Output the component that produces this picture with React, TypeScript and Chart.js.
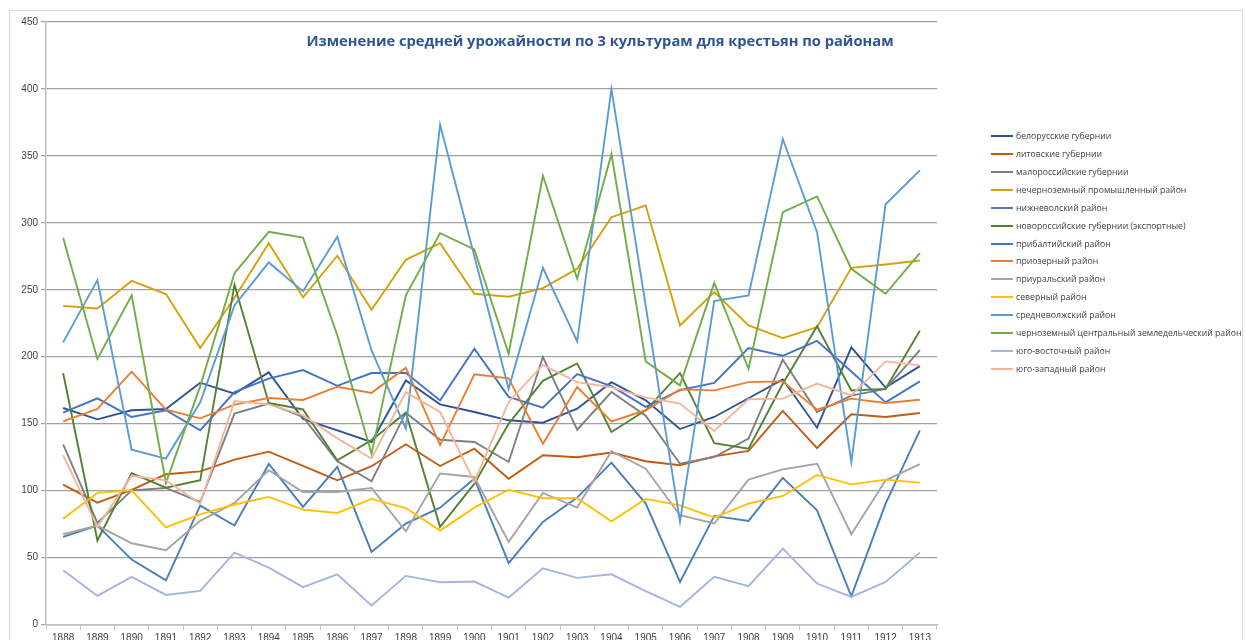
import React, { useEffect, useRef } from "react";
import { Chart, registerables } from "chart.js";

Chart.register(...registerables);

const chartTitle = "Изменение средней урожайности по 3 культурам для крестьян по районам";

const years = [
  "1888", "1889", "1890", "1891", "1892", "1893", "1894", "1895", "1896", "1897", "1898", "1899", "1900",
  "1901", "1902", "1903", "1904", "1905", "1906", "1907", "1908", "1909", "1910", "1911", "1912", "1913",
];

const yTicks = [0, 50, 100, 150, 200, 250, 300, 350, 400, 450];

const seriesNames = [
  "белорусские губернии",
  "литовские губернии",
  "малороссийские губернии",
  "нечерноземный промышленный район",
  "нижневолский район",
  "новороссийские губернии (экспортные)",
  "прибалтийский район",
  "приозерный район",
  "приуральский район",
  "северный район",
  "средневолжский район",
  "черноземный центральный земледельческий район",
  "юго-восточный район",
  "юго-западный район",
];

const belorus = [161.7, 153.2, 160, 161, 180.6, 172.4, 188.3, 153.5, 145, 136.3, 182.3, 164.4, 158.7, 152.5, 150.7, 161.2, 181, 167.4, 146, 155, 169, 183, 147, 207, 177, 193];
const litov = [104.5, 91, 100.5, 112.2, 114.4, 123.1, 129.1, 118.4, 107.7, 118.2, 134.6, 118.4, 131.3, 108.9, 126.4, 124.9, 128.4, 121.9, 118.9, 125.6, 129.6, 159.5, 131.8, 157, 155, 158];
const maloros = [134.6, 75.9, 100.2, 102, 91.5, 157.5, 165, 155, 122, 107, 158.2, 138, 136.3, 121.4, 199.8, 145.5, 173.6, 156, 120.1, 125.1, 138.8, 197.8, 158.7, 171, 176, 205];
const nechernozem = [238, 236, 256.7, 246.8, 206.5, 244, 284.8, 244.3, 275.4, 235.1, 272.4, 284.8, 247, 244.8, 251.2, 265.7, 304.2, 312.9, 223.4, 248.3, 223.4, 213.9, 222.1, 266.4, 268.9, 271.9];
const nizhnevol = [65.4, 73.9, 48.5, 33, 88.8, 73.9, 119.9, 87.8, 117.7, 54.2, 75.4, 87.3, 109, 45.8, 76.6, 94.8, 120.9, 90.3, 31.8, 81.1, 77.4, 109.5, 85.3, 21.1, 90.3, 145];
const novoros = [187.8, 62.7, 113, 102.2, 107.7, 253.7, 165.4, 160.6, 122.7, 137.7, 158.2, 72.9, 105.2, 150, 182, 195, 143.8, 160, 187.8, 135.5, 131.3, 179.8, 222.8, 174.8, 176, 219.5];
const pribalt = [158.2, 168.9, 155, 160, 145, 173.6, 183.6, 190, 178.3, 187.8, 187.8, 167.4, 206, 170, 162, 187, 178, 162.6, 175, 180.5, 206.4, 200.7, 211.9, 189, 165.9, 181.6];
const priozer = [151.7, 161, 188.8, 160.4, 154, 164.2, 169.2, 167.7, 177.6, 173, 191.8, 134, 186.8, 183.8, 135, 177.4, 151.7, 160, 175.6, 174.9, 181, 181.6, 160.4, 168.7, 165.4, 167.9];
const priural = [67.4, 73.9, 60.7, 55.5, 77.4, 90.8, 115.2, 99, 99, 102, 69.6, 112.7, 110.2, 61.7, 98.3, 87.3, 129.4, 116.4, 81.6, 75.4, 108.2, 115.9, 120.1, 67.4, 107.7, 119.7];
const sever = [78.9, 98.3, 100.2, 72.6, 82.3, 89.6, 95.3, 85.8, 83.3, 93.8, 87, 70.1, 87.3, 100.7, 94.3, 94.3, 77.1, 93.8, 89, 79.9, 90.3, 96, 111.7, 104.7, 108.2, 106];
const srednevol = [210.7, 257.2, 130.6, 123.9, 166, 238.3, 270.4, 248.8, 289.6, 204.7, 146.3, 373.3, 275, 176, 266.4, 211.4, 400, 238, 76.6, 241.5, 245.8, 362.6, 293, 121.4, 313.9, 339.2];
const chernozem = [288.8, 198.3, 245.8, 105.7, 178, 262.4, 293.3, 289, 216, 127.6, 245.8, 292.3, 280.1, 202.2, 335.2, 258.2, 351.4, 196.5, 178.6, 255.2, 191, 308, 319.7, 265.7, 247, 277.4];
const yugoVost = [40.5, 21.4, 35.6, 22.1, 25.1, 53.7, 42.5, 27.9, 37.5, 14.2, 36.3, 31.6, 32.1, 20.1, 42, 34.8, 37.5, 25, 13.2, 35.6, 28.6, 56.7, 30.6, 20.6, 31.8, 53.7];
const yugoZap = [126.4, 72.9, 111, 107.7, 90.3, 166.9, 164.4, 156.4, 139, 124, 173.6, 158.7, 106.5, 166.2, 193.9, 181, 177.2, 169.5, 165, 144.5, 168.2, 168.7, 179.9, 171.1, 196.5, 193.5];

const seriesValues = [belorus, litov, maloros, nechernozem, nizhnevol, novoros, pribalt, priozer, priural, sever, srednevol, chernozem, yugoVost, yugoZap];

const seriesColors = [
  "#2F5496", "#C55A11", "#7F7F7F", "#D4A10C", "#4A7EBB", "#548235", "#4472C4",
  "#ED7D31", "#A5A5A5", "#FFC000", "#5B9BD5", "#70AD47", "#A4B5E2", "#F4B69A",
];

const FONT = "'Liberation Sans', Arial, sans-serif";

export default function App() {
  const canvasRef = useRef<HTMLCanvasElement | null>(null);

  useEffect(() => {
    const canvas = canvasRef.current;
    if (!canvas) return;
    const n = seriesNames.length;
    const chart = new Chart(canvas, {
      type: "line",
      data: {
        labels: years,
        datasets: seriesNames.map((name, i) => ({
          label: name,
          data: seriesValues[i],
          borderColor: seriesColors[i],
          backgroundColor: seriesColors[i],
          borderWidth: 1.9,
          pointRadius: 0,
          pointHoverRadius: 0,
          tension: 0,
          fill: false,
          order: n - i,
        })),
      },
      options: {
        responsive: false,
        animation: false,
        devicePixelRatio: 1,
        layout: { padding: { left: 8, right: 308, top: 22, bottom: 5.5 } },
        plugins: {
          legend: { display: false },
          title: { display: false },
          tooltip: { enabled: false },
        },
        scales: {
          x: {
            type: "category",
            offset: true,
            grid: {
              display: true,
              drawOnChartArea: false,
              drawTicks: true,
              tickLength: 5,
              offset: true,
              color: "#bfbfbf",
            },
            border: { display: true, color: "#bfbfbf", width: 1.5 },
            ticks: {
              color: "#404040",
              font: { family: FONT, size: 10 },
              padding: 3,
              maxRotation: 0,
              autoSkip: false,
            },
            afterFit: (s: any) => {
              s.height = 30;
            },
          },
          y: {
            type: "linear",
            min: 0,
            max: 450,
            afterBuildTicks: (s: any) => {
              s.ticks = yTicks.map((v) => ({ value: v }));
            },
            grid: {
              color: "#a0a0a0",
              lineWidth: 1.2,
              drawTicks: true,
              tickLength: 5,
            },
            border: { display: true, color: "#bfbfbf", width: 1.5 },
            ticks: {
              color: "#404040",
              font: { family: FONT, size: 10 },
              padding: 3,
            },
            afterFit: (s: any) => {
              s.width = 38;
            },
          },
        },
      },
    });
    return () => chart.destroy();
  }, []);

  return (
    <div
      style={{
        position: "fixed",
        left: 0,
        top: 0,
        width: 1245,
        height: 640,
        overflow: "hidden",
        background: "#ffffff",
      }}
    >
      <div
        style={{
          position: "absolute",
          left: 9,
          top: 10,
          width: 1234,
          height: 700,
          border: "1px solid #d9d9d9",
          boxSizing: "border-box",
        }}
      />
      <canvas
        ref={canvasRef}
        width={1245}
        height={660}
        style={{ position: "absolute", left: 0, top: 0, width: 1245, height: 660 }}
      />
      <div
        style={{
          position: "absolute",
          left: 300,
          width: 600,
          top: 30,
          textAlign: "center",
          fontFamily: "'Open Sans', 'Noto Sans', sans-serif",
          fontWeight: 700,
          fontSize: 14.7,
          color: "#2F5597",
          whiteSpace: "nowrap",
          lineHeight: "20px",
        }}
      >
        {chartTitle}
      </div>
      {seriesNames.map((name, i) => (
        <div
          key={name}
          style={{
            position: "absolute",
            left: 991,
            top: 135.7 + i * 17.97 - 7,
            height: 14,
            display: "flex",
            alignItems: "center",
            whiteSpace: "nowrap",
          }}
        >
          <div style={{ width: 22, height: 2, background: seriesColors[i], marginRight: 3 }} />
          <span
            style={{
              fontFamily: "'Open Sans', 'Noto Sans', sans-serif",
              fontSize: 8.7,
              color: "#404040",
              lineHeight: "14px",
            }}
          >
            {name}
          </span>
        </div>
      ))}
    </div>
  );
}
